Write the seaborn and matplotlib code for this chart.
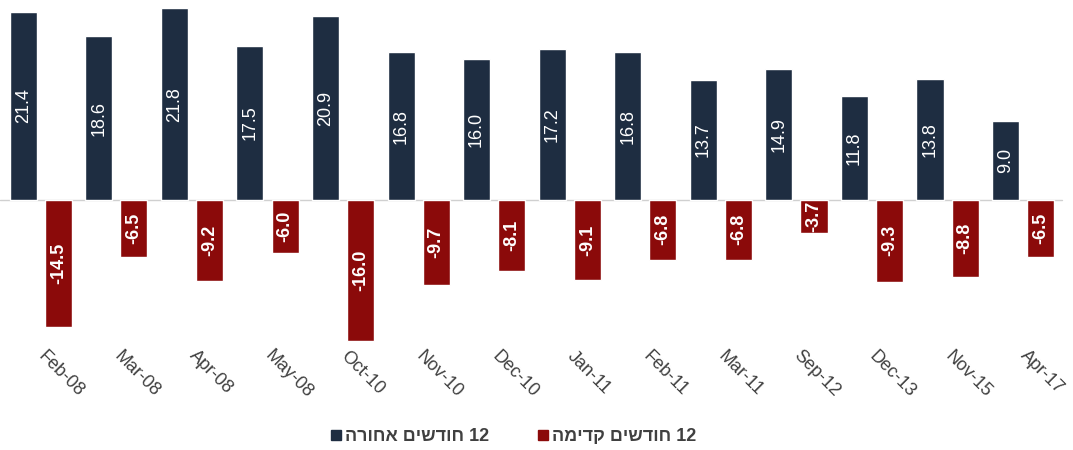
import matplotlib
matplotlib.use("Agg")
import matplotlib.pyplot as plt
import seaborn as sns
import pandas as pd
from matplotlib.lines import Line2D

# ---- data ----
categories = ["Feb-08", "Mar-08", "Apr-08", "May-08", "Oct-10", "Nov-10", "Dec-10",
              "Jan-11", "Feb-11", "Mar-11", "Sep-12", "Dec-13", "Nov-15", "Apr-17"]
backward = [21.4, 18.6, 21.8, 17.5, 20.9, 16.8, 16.0, 17.2, 16.8, 13.7, 14.9, 11.8, 13.8, 9.0]
forward = [-14.5, -6.5, -9.2, -6.0, -16.0, -9.7, -8.1, -9.1, -6.8, -6.8, -3.7, -9.3, -8.8, -6.5]
series_names = ["12 חודשים אחורה", "12 חודשים קדימה"]
colors = ["#1e2d41", "#8b0a0a"]


def visual(s):
    # convert logical RTL Hebrew string to visual (left-to-right) order
    words = s.split(" ")
    out = []
    for w in reversed(words):
        if any('\u0590' <= ch <= '\u05FF' for ch in w):
            out.append(w[::-1])
        else:
            out.append(w)
    return " ".join(out)


df = pd.DataFrame({
    "cat": categories * 2,
    "val": backward + forward,
    "series": [series_names[0]] * len(categories) + [series_names[1]] * len(categories),
})

sns.set_theme(style="white")
plt.rcParams["font.family"] = ["Liberation Sans", "DejaVu Sans"]

fig = plt.figure(figsize=(10.73, 4.5), dpi=100)
ax = fig.add_axes([0.0, 0.2333, 1.0, 0.7667])

sns.barplot(data=df, x="cat", y="val", hue="series", order=categories,
            hue_order=series_names, palette=colors, width=0.93, gap=0.23,
            saturation=1, ax=ax, legend=False, errorbar=None)

ax.set_xlim(-0.54, 13.66)
ax.set_ylim(-16.5, 22.75)
ax.axhline(0, color="#d0d0d0", lw=1, xmin=0, xmax=0.99, zorder=0.5)

for i, cont in enumerate(ax.containers):
    if i == 0:
        ax.bar_label(cont, labels=[f"{v:.1f}" for v in backward], label_type="center",
                     rotation=90, color="white", fontsize=13)
    else:
        ax.bar_label(cont, labels=[f"{v:.1f}" for v in forward], label_type="center",
                     rotation=90, color="white", fontsize=13, fontweight="bold")

for s in ax.spines.values():
    s.set_visible(False)
ax.set_yticks([])
ax.set_xlabel("")
ax.set_ylabel("")
ax.tick_params(axis="x", length=0, pad=6)
for lab in ax.get_xticklabels():
    lab.set_rotation(-45)
    lab.set_ha("left")
    lab.set_va("center")
    lab.set_rotation_mode("anchor")
    lab.set_fontsize(13)
    lab.set_color("#404040")

handles = [Line2D([], [], marker="s", linestyle="", markersize=7,
                  markerfacecolor=c, markeredgecolor=c) for c in colors]
fig.legend(handles, [visual(n) for n in series_names], loc="center",
           bbox_to_anchor=(0.477, 0.03), ncol=2, frameon=False,
           handletextpad=0.0, columnspacing=2.5, handlelength=1.0,
           prop={"size": 13, "weight": "bold"}, labelcolor="#404040")

fig.savefig("out.png", dpi=100)
